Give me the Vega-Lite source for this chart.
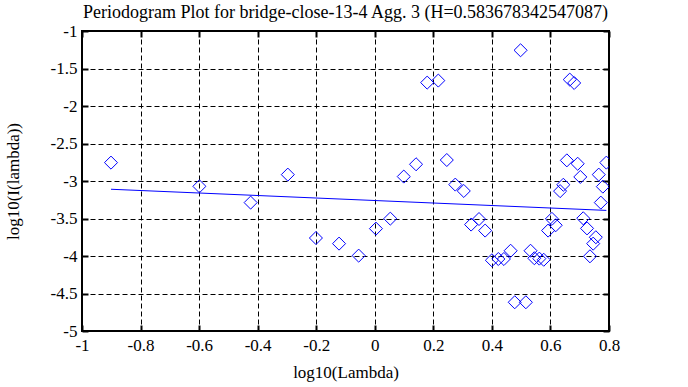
{
  "$schema": "https://vega.github.io/schema/vega-lite/v6.json",
  "autosize": "none",
  "width": 527,
  "height": 300,
  "padding": {"left": 82, "top": 31, "right": 79, "bottom": 56},
  "background": "white",
  "title": {"text": "Periodogram Plot for bridge-close-13-4 Agg. 3 (H=0.583678342547087)", "font": "Liberation Serif", "fontSize": 18, "fontWeight": "normal", "color": "black", "offset": 0, "anchor": "middle"},
  "config": {
    "view": {"stroke": "black", "strokeWidth": 2},
    "axis": {"labelFont": "Liberation Serif", "titleFont": "Liberation Serif", "labelFontSize": 17, "titleFontSize": 17, "titleFontWeight": "normal", "labelColor": "black", "titleColor": "black", "domain": false, "tickColor": "black", "tickWidth": 2, "tickSize": -6, "gridColor": "black", "gridDash": [5, 3], "gridWidth": 1, "gridOpacity": 1}
  },
  "datasets": {
    "pts": [
      {"x": -0.901, "y": -2.755}, {"x": -0.599, "y": -3.071}, {"x": -0.424, "y": -3.288}, {"x": -0.297, "y": -2.915},
      {"x": -0.201, "y": -3.76}, {"x": -0.122, "y": -3.835}, {"x": -0.055, "y": -3.995}, {"x": 0.004, "y": -3.635},
      {"x": 0.053, "y": -3.502}, {"x": 0.099, "y": -2.941}, {"x": 0.141, "y": -2.777}, {"x": 0.179, "y": -1.688},
      {"x": 0.217, "y": -1.661}, {"x": 0.246, "y": -2.72}, {"x": 0.275, "y": -3.048}, {"x": 0.304, "y": -3.133},
      {"x": 0.329, "y": -3.581}, {"x": 0.356, "y": -3.507}, {"x": 0.377, "y": -3.661}, {"x": 0.4, "y": -4.057},
      {"x": 0.422, "y": -4.04}, {"x": 0.441, "y": -4.04}, {"x": 0.464, "y": -3.93}, {"x": 0.478, "y": -4.617},
      {"x": 0.498, "y": -1.257}, {"x": 0.516, "y": -4.617}, {"x": 0.532, "y": -3.93}, {"x": 0.545, "y": -4.03},
      {"x": 0.562, "y": -4.035}, {"x": 0.577, "y": -4.05}, {"x": 0.592, "y": -3.661}, {"x": 0.605, "y": -3.505},
      {"x": 0.618, "y": -3.59}, {"x": 0.633, "y": -3.135}, {"x": 0.644, "y": -3.05}, {"x": 0.656, "y": -2.725},
      {"x": 0.666, "y": -1.648}, {"x": 0.681, "y": -1.693}, {"x": 0.693, "y": -2.77}, {"x": 0.702, "y": -2.946},
      {"x": 0.712, "y": -3.497}, {"x": 0.725, "y": -3.632}, {"x": 0.735, "y": -4.004}, {"x": 0.746, "y": -3.835},
      {"x": 0.755, "y": -3.75}, {"x": 0.765, "y": -2.915}, {"x": 0.772, "y": -3.288}, {"x": 0.779, "y": -3.075},
      {"x": 0.791, "y": -2.755}
    ],
    "fit": [
      {"x": -0.901, "y": -3.11},
      {"x": 0.791, "y": -3.392}
    ]
  },
  "layer": [
    {
      "data": {"name": "pts"},
      "mark": {"type": "point", "shape": "diamond", "filled": false, "stroke": "#0000ff", "strokeWidth": 1, "size": 170, "opacity": 1, "clip": true},
      "encoding": {
        "x": {"field": "x", "type": "quantitative", "scale": {"domain": [-1, 0.8], "nice": false, "zero": false},
          "axis": {"title": "log10(Lambda)", "orient": "bottom", "values": [-1, -0.8, -0.6, -0.4, -0.2, 0, 0.2, 0.4, 0.6, 0.8], "labelPadding": 12, "titlePadding": 11, "labelFlush": false, "labelExpr": "datum.value + ''", "labelFont": "Liberation Serif", "titleFont": "Liberation Serif"}},
        "y": {"field": "y", "type": "quantitative", "scale": {"domain": [-5, -1], "nice": false, "zero": false},
          "axis": {"title": "log10(I(lambda))", "orient": "left", "values": [-5, -4.5, -4, -3.5, -3, -2.5, -2, -1.5, -1], "labelPadding": 11, "titlePadding": 28, "labelFlush": false, "labelExpr": "datum.value + ''", "labelFont": "Liberation Serif", "titleFont": "Liberation Serif"}}
      }
    },
    {
      "data": {"name": "fit"},
      "mark": {"type": "line", "color": "#0000ff", "strokeWidth": 1},
      "encoding": {
        "x": {"field": "x", "type": "quantitative", "axis": null},
        "y": {"field": "y", "type": "quantitative", "axis": null}
      }
    },
    {
      "data": {"name": "fit"},
      "mark": {"type": "line", "opacity": 0},
      "encoding": {
        "x": {"field": "x", "type": "quantitative", "axis": {"orient": "top", "labels": false, "title": null, "grid": false, "values": [-1, -0.8, -0.6, -0.4, -0.2, 0, 0.2, 0.4, 0.6, 0.8]}},
        "y": {"field": "y", "type": "quantitative", "axis": {"orient": "right", "labels": false, "title": null, "grid": false, "values": [-5, -4.5, -4, -3.5, -3, -2.5, -2, -1.5, -1]}}
      }
    }
  ],
  "resolve": {"axis": {"x": "independent", "y": "independent"}}
}
